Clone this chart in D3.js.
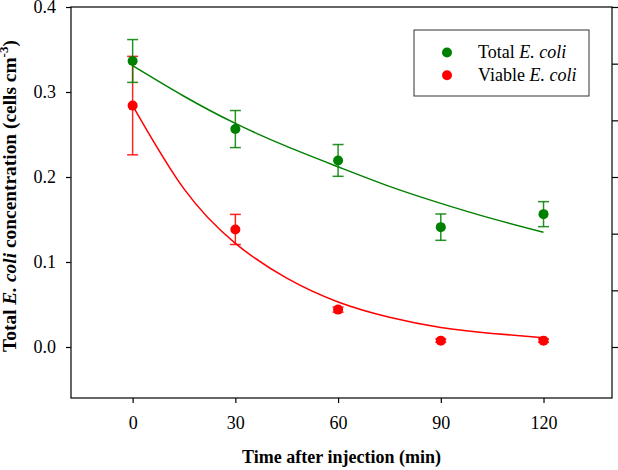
<!DOCTYPE html>
<html>
<head>
<meta charset="utf-8">
<script src="https://cdn.jsdelivr.net/npm/d3@7"></script>
<style>
  body { margin: 0; background: #fff; }
  svg { display: block; }
  text { font-family: "Liberation Serif", "Times New Roman", serif; }
</style>
</head>
<body>
<div id="chart"></div>
<script>
// measured values (min after injection)
var times = [0, 30, 60, 90, 120]
var totalMean = [0.3365, 0.2564, 0.2195, 0.1410, 0.1563]
var totalErr = [0.0252, 0.0218, 0.0187, 0.0155, 0.0147]
var viableMean = [0.2840, 0.1383, 0.0440, 0.0075, 0.0075]
var viableErr = [0.0579, 0.0177, 0.0030, 0.0020, 0.0020]

// fitted curves
var fitTimes = [0, 15, 30, 45, 60, 75, 90, 105, 120]
var totalFit = [0.331, 0.295, 0.263, 0.236, 0.212, 0.189, 0.169, 0.151, 0.135]
var viableFit = [0.284, 0.186, 0.122, 0.081, 0.053, 0.035, 0.023, 0.016, 0.011]

var yTicks = [0, 0.1, 0.2, 0.3, 0.4]
var xTicks = [0, 30, 60, 90, 120]
var rightTicks = [0, 0.1, 0.2, 0.3, 0.4, 0.5, 0.6]

var W = 618, H = 470
// plot box edges (window.top is reserved, so no "top" here)
var plotL = 71, plotR = 612, plotT = 7, plotB = 398

var svg = d3.select("#chart").append("svg")
    .attr("width", W)
    .attr("height", H)

var x = d3.scaleLinear().domain([-18, 140]).range([plotL, plotR])
var y = d3.scaleLinear().domain([-0.06, 0.4]).range([plotB, plotT])
// secondary axis on the right, labels fall outside the picture
var yRight = d3.scaleLinear().domain([-0.09, 0.6]).range([plotB, plotT])

var green = "#008000", red = "#ff0000"

// axes
var gy = svg.append("g")
    .attr("transform", "translate(" + plotL + ",0)")
    .call(d3.axisLeft(y).tickValues(yTicks).tickFormat(d3.format(".1f"))
        .tickSize(5).tickPadding(10).tickSizeOuter(0))
var gx = svg.append("g")
    .attr("transform", "translate(0," + plotB + ")")
    .call(d3.axisBottom(x).tickValues(xTicks).tickSize(5).tickPadding(13).tickSizeOuter(0))
var gr = svg.append("g")
    .attr("transform", "translate(" + plotR + ",0)")
    .call(d3.axisRight(yRight).tickValues(rightTicks).tickFormat("").tickSize(6).tickSizeOuter(0))

;[gx, gy, gr].forEach(function (g) {
    g.select(".domain").remove()
    g.selectAll("line").attr("stroke", "#000").attr("stroke-width", 1.2)
    g.selectAll("text").attr("font-family", "Liberation Serif").attr("font-size", "18px").attr("fill", "#000")
})

// frame
svg.append("rect")
    .attr("x", plotL).attr("y", plotT)
    .attr("width", plotR - plotL).attr("height", plotB - plotT)
    .attr("fill", "none").attr("stroke", "#000").attr("stroke-width", 1.2)

// fit lines
var line = d3.line()
    .x(function (d) { return x(d[0]) })
    .y(function (d) { return y(d[1]) })
    .curve(d3.curveNatural)

svg.append("path")
    .datum(d3.zip(fitTimes, totalFit))
    .attr("d", line)
    .attr("fill", "none").attr("stroke", green).attr("stroke-width", 1.5)
svg.append("path")
    .datum(d3.zip(fitTimes, viableFit))
    .attr("d", line)
    .attr("fill", "none").attr("stroke", red).attr("stroke-width", 1.5)

// error bars + points
function drawSeries(means, errs, color) {
    var g = svg.append("g")
    var cap = 5.5
    times.forEach(function (t, i) {
        var cx = x(t), hi = y(means[i] + errs[i]), lo = y(means[i] - errs[i])
        g.append("line").attr("x1", cx).attr("x2", cx).attr("y1", hi).attr("y2", lo)
            .attr("stroke", color).attr("stroke-width", 1.5).attr("opacity", 0.85)
        g.append("line").attr("x1", cx - cap).attr("x2", cx + cap).attr("y1", hi).attr("y2", hi)
            .attr("stroke", color).attr("stroke-width", 1.5).attr("opacity", 0.85)
        g.append("line").attr("x1", cx - cap).attr("x2", cx + cap).attr("y1", lo).attr("y2", lo)
            .attr("stroke", color).attr("stroke-width", 1.5).attr("opacity", 0.85)
    })
    g.selectAll("circle")
        .data(times)
        .enter()
        .append("circle")
        .attr("cx", function (d) { return x(d) })
        .attr("cy", function (d, i) { return y(means[i]) })
        .attr("r", 5)
        .attr("fill", color)
}
drawSeries(viableMean, viableErr, red)
drawSeries(totalMean, totalErr, green)

// legend
var legend = svg.append("g")
legend.append("rect")
    .attr("x", 414).attr("y", 30).attr("width", 175).attr("height", 66)
    .attr("fill", "#fff").attr("stroke", "#333").attr("stroke-width", 1)
var legendItems = [["Total ", green], ["Viable ", red]]
legendItems.forEach(function (d, i) {
    legend.append("circle").attr("cx", 447).attr("cy", 52.5 + i * 22.7).attr("r", 5).attr("fill", d[1])
    var t = legend.append("text")
        .attr("x", 478).attr("y", 58 + i * 23)
        .attr("font-size", "18px").attr("fill", "#000")
    t.append("tspan").text(d[0])
    t.append("tspan").attr("font-style", "italic").text("E. coli")
})

// axis titles
svg.append("text")
    .attr("x", (plotL + plotR) / 2).attr("y", 463)
    .attr("text-anchor", "middle")
    .attr("font-size", "18px").attr("font-weight", "bold")
    .text("Time after injection (min)")

var yt = svg.append("text")
    .attr("transform", "translate(16,196) rotate(-90)")
    .attr("text-anchor", "middle")
    .attr("font-size", "19.4px").attr("font-weight", "bold")
yt.append("tspan").text("Total ")
yt.append("tspan").attr("font-style", "italic").text("E. coli")
yt.append("tspan").text(" concentration (cells cm")
yt.append("tspan").attr("font-size", "13px").attr("dy", "-8").text("-3")
yt.append("tspan").attr("dy", "8").text(")")
</script>
</body>
</html>
